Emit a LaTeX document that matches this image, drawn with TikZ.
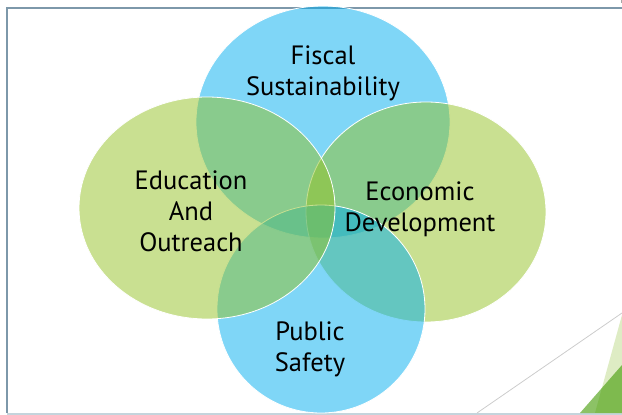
\documentclass[tikz,border=0pt]{standalone}
\usepackage{fontspec}
\setmainfont{PT Sans}
\usetikzlibrary{shapes.geometric,positioning}

\definecolor{vennblue}{RGB}{0,173,239}
\definecolor{venngreen}{RGB}{147,193,35}
\definecolor{frameline}{RGB}{125,152,170}
\definecolor{framelow}{RGB}{196,212,220}
\definecolor{leafpale}{RGB}{222,236,196}
\definecolor{leafdark}{RGB}{63,153,0}

\begin{document}
\begin{tikzpicture}[x=1pt,y=-1pt]

        % Styles of the sets and their names
        \tikzset{
            set/.style={ellipse, draw=white, line width=0.8pt,
                fill opacity=0.5, inner sep=0pt},
            setname/.style={align=center, text=black,
                font=\fontsize{26.5}{31}\selectfont}
        }

        \useasboundingbox (0,0) rectangle (622,415);

        % Slide frame and corner decoration
        \draw[frameline, line width=1.1pt] (622,8) -- (7,8) -- (7,413);
        \draw[framelow, line width=1.1pt] (7,414) -- (622,414);
        \draw[black!20, line width=0.8pt] (477,413) -- (622,313);
        \draw[black!35, line width=0.6pt] (621,0) -- (621,3);
        \fill[leafpale] (622,315) -- (595,413) -- (622,413) -- cycle;
        \fill[leafdark, opacity=0.6] (622,365) -- (580,413) -- (622,413) -- cycle;

        % The four sets, drawn in stacking order
        \begin{scope}
            \node[set, fill=vennblue, minimum width=254, minimum height=232]
                (fiscal) at (323,122) {};
            \node[set, fill=venngreen, minimum width=240, minimum height=220]
                (econ) at (426,212) {};
            \node[set, fill=vennblue, minimum width=208, minimum height=208]
                (safety) at (321,309) {};
            \node[set, fill=venngreen, minimum width=256, minimum height=222]
                (educ) at (207,208) {};
        \end{scope}

        \begin{scope}
            \node[setname] (fiscalname) at (323,73) {Fiscal\\Sustainability};
            \node[setname] (educname) at (191,211) {Education\\And\\Outreach};
            \node[setname] (econname) at (420,209) {Economic\\Development};
            \node[setname] (safetyname) at (310,349) {Public\\Safety};
        \end{scope}

        \end{tikzpicture}
\end{document}
